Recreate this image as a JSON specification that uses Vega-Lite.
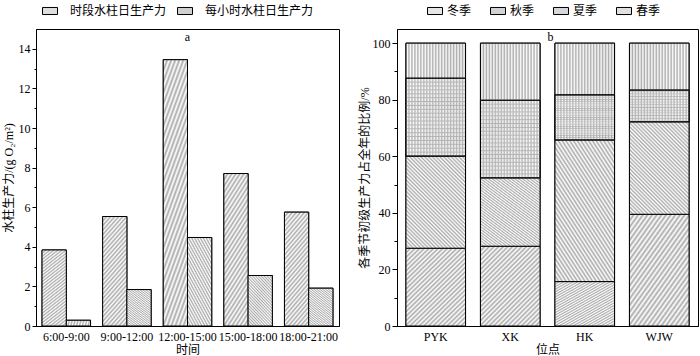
{
  "$schema": "https://vega.github.io/schema/vega-lite/v6.json",
  "padding": {"left": 1, "top": 2, "right": 0, "bottom": 0},
  "background": "white",
  "resolve": {"scale": {"color": "independent"}, "legend": {"color": "independent"}},
  "config": {
    "font": "Liberation Serif, Noto Sans CJK SC",
    "view": {"stroke": "black", "strokeWidth": 1},
    "concat": {"spacing": 17},
    "axis": {
      "domainColor": "black", "tickColor": "black", "labelColor": "black", "titleColor": "black",
      "labelFont": "Liberation Serif", "labelFontSize": 12, "titleFont": "Liberation Serif, Noto Sans CJK SC",
      "titleFontSize": 12, "titleFontWeight": "normal", "grid": false
    },
    "legend": {
      "labelFont": "Liberation Serif, Noto Sans CJK SC", "labelFontSize": 12, "labelColor": "black",
      "symbolStrokeColor": "black", "symbolStrokeWidth": 1, "symbolOpacity": 1
    }
  },
  "hconcat": [
    {
      "width": 303,
      "height": 297,
      "title": {"text": "a", "frame": "group", "offset": -50, "baseline": "alphabetic", "fontSize": 12, "fontWeight": "normal", "font": "Liberation Serif", "color": "black"},
      "data": {"values": [
        {"时间": "6:00-9:00", "指标": "时段水柱日生产力", "值": 3.84},
        {"时间": "6:00-9:00", "指标": "每小时水柱日生产力", "值": 0.29},
        {"时间": "9:00-12:00", "指标": "时段水柱日生产力", "值": 5.53},
        {"时间": "9:00-12:00", "指标": "每小时水柱日生产力", "值": 1.84},
        {"时间": "12:00-15:00", "指标": "时段水柱日生产力", "值": 13.45},
        {"时间": "12:00-15:00", "指标": "每小时水柱日生产力", "值": 4.47},
        {"时间": "15:00-18:00", "指标": "时段水柱日生产力", "值": 7.7},
        {"时间": "15:00-18:00", "指标": "每小时水柱日生产力", "值": 2.55},
        {"时间": "18:00-21:00", "指标": "时段水柱日生产力", "值": 5.75},
        {"时间": "18:00-21:00", "指标": "每小时水柱日生产力", "值": 1.91}
      ]},
      "encoding": {
        "x": {
          "field": "时间", "type": "nominal",
          "sort": ["6:00-9:00", "9:00-12:00", "12:00-15:00", "15:00-18:00", "18:00-21:00"],
          "scale": {"paddingInner": 0.2, "paddingOuter": 0.1},
          "axis": {"labelAngle": 0, "ticks": false, "labelPadding": 5, "titlePadding": 2, "title": "时间"}
        },
        "xOffset": {"field": "指标", "type": "nominal", "sort": ["时段水柱日生产力", "每小时水柱日生产力"]},
        "y": {
          "field": "值", "type": "quantitative",
          "scale": {"domain": [0, 15], "nice": false},
          "axis": {
            "values": [0, 1, 2, 3, 4, 5, 6, 7, 8, 9, 10, 11, 12, 13, 14],
            "labelExpr": "datum.value % 2 ? '' : datum.label",
            "tickSize": {"condition": {"test": "datum.value % 2", "value": 2}, "value": 4},
            "labelPadding": 2, "titlePadding": 3,
            "title": "水柱生产力/(g O₂/m²)"
          }
        }
      },
      "layer": [
        {
          "mark": {"type": "bar", "stroke": "black", "strokeWidth": 1},
          "encoding": {
            "color": {
              "field": "指标", "type": "nominal",
              "scale": {"domain": ["时段水柱日生产力", "每小时水柱日生产力"], "range": ["#dedede", "#d0d0d0"]},
              "legend": {
                "title": null, "orient": "none", "legendX": 6, "legendY": -26, "direction": "horizontal",
                "symbolType": "M-1,-0.47H1V0.47H-1Z", "symbolSize": 225, "labelOffset": 12, "columnPadding": 8,
                "encode": {"symbols": {"update": {
                  "stroke": {"value": "black"}, "strokeWidth": {"value": 1},
                  "fill": [
                  {"test": "datum.value === '时段水柱日生产力'", "value": {"gradient": "linear", "x1": 0, "y1": 0, "x2": 1, "y2": 1, "stops": [{"offset":0,"color":"#888"},{"offset":0.125,"color":"#fff"},{"offset":0.25,"color":"#888"},{"offset":0.375,"color":"#fff"},{"offset":0.5,"color":"#888"},{"offset":0.625,"color":"#fff"},{"offset":0.75,"color":"#888"},{"offset":0.875,"color":"#fff"},{"offset":1,"color":"#888"}]}},
                  {"value": {"gradient": "linear", "x1": 0, "y1": 1, "x2": 1, "y2": 0, "stops": [{"offset":0,"color":"#888"},{"offset":0.0714,"color":"#fff"},{"offset":0.1429,"color":"#888"},{"offset":0.2143,"color":"#fff"},{"offset":0.2857,"color":"#888"},{"offset":0.3571,"color":"#fff"},{"offset":0.4286,"color":"#888"},{"offset":0.5,"color":"#fff"},{"offset":0.5714,"color":"#888"},{"offset":0.6429,"color":"#fff"},{"offset":0.7143,"color":"#888"},{"offset":0.7857,"color":"#fff"},{"offset":0.8571,"color":"#888"},{"offset":0.9286,"color":"#fff"},{"offset":1,"color":"#888"}]}}
                ]}}}
              }
            }
          }
        },
        {
          "mark": {"type": "bar", "stroke": "black", "strokeWidth": 1},
          "encoding": {
            "fill": {
              "condition": {"test": "datum['指标'] === '时段水柱日生产力'", "value": {"gradient": "linear", "x1": 0, "y1": 0, "x2": 0.294, "y2": 1.176, "stops": [{"offset":0,"color":"#aaa"},{"offset":0.0167,"color":"#fff"},{"offset":0.0333,"color":"#aaa"},{"offset":0.05,"color":"#fff"},{"offset":0.0667,"color":"#aaa"},{"offset":0.0833,"color":"#fff"},{"offset":0.1,"color":"#aaa"},{"offset":0.1167,"color":"#fff"},{"offset":0.1333,"color":"#aaa"},{"offset":0.15,"color":"#fff"},{"offset":0.1667,"color":"#aaa"},{"offset":0.1833,"color":"#fff"},{"offset":0.2,"color":"#aaa"},{"offset":0.2167,"color":"#fff"},{"offset":0.2333,"color":"#aaa"},{"offset":0.25,"color":"#fff"},{"offset":0.2667,"color":"#aaa"},{"offset":0.2833,"color":"#fff"},{"offset":0.3,"color":"#aaa"},{"offset":0.3167,"color":"#fff"},{"offset":0.3333,"color":"#aaa"},{"offset":0.35,"color":"#fff"},{"offset":0.3667,"color":"#aaa"},{"offset":0.3833,"color":"#fff"},{"offset":0.4,"color":"#aaa"},{"offset":0.4167,"color":"#fff"},{"offset":0.4333,"color":"#aaa"},{"offset":0.45,"color":"#fff"},{"offset":0.4667,"color":"#aaa"},{"offset":0.4833,"color":"#fff"},{"offset":0.5,"color":"#aaa"},{"offset":0.5167,"color":"#fff"},{"offset":0.5333,"color":"#aaa"},{"offset":0.55,"color":"#fff"},{"offset":0.5667,"color":"#aaa"},{"offset":0.5833,"color":"#fff"},{"offset":0.6,"color":"#aaa"},{"offset":0.6167,"color":"#fff"},{"offset":0.6333,"color":"#aaa"},{"offset":0.65,"color":"#fff"},{"offset":0.6667,"color":"#aaa"},{"offset":0.6833,"color":"#fff"},{"offset":0.7,"color":"#aaa"},{"offset":0.7167,"color":"#fff"},{"offset":0.7333,"color":"#aaa"},{"offset":0.75,"color":"#fff"},{"offset":0.7667,"color":"#aaa"},{"offset":0.7833,"color":"#fff"},{"offset":0.8,"color":"#aaa"},{"offset":0.8167,"color":"#fff"},{"offset":0.8333,"color":"#aaa"},{"offset":0.85,"color":"#fff"},{"offset":0.8667,"color":"#aaa"},{"offset":0.8833,"color":"#fff"},{"offset":0.9,"color":"#aaa"},{"offset":0.9167,"color":"#fff"},{"offset":0.9333,"color":"#aaa"},{"offset":0.95,"color":"#fff"},{"offset":0.9667,"color":"#aaa"},{"offset":0.9833,"color":"#fff"},{"offset":1,"color":"#aaa"}]}},
              "value": {"gradient": "linear", "x1": 0, "y1": 1, "x2": 0.6, "y2": -0.2, "stops": [{"offset":0,"color":"#aaa"},{"offset":0.02,"color":"#fff"},{"offset":0.04,"color":"#aaa"},{"offset":0.06,"color":"#fff"},{"offset":0.08,"color":"#aaa"},{"offset":0.1,"color":"#fff"},{"offset":0.12,"color":"#aaa"},{"offset":0.14,"color":"#fff"},{"offset":0.16,"color":"#aaa"},{"offset":0.18,"color":"#fff"},{"offset":0.2,"color":"#aaa"},{"offset":0.22,"color":"#fff"},{"offset":0.24,"color":"#aaa"},{"offset":0.26,"color":"#fff"},{"offset":0.28,"color":"#aaa"},{"offset":0.3,"color":"#fff"},{"offset":0.32,"color":"#aaa"},{"offset":0.34,"color":"#fff"},{"offset":0.36,"color":"#aaa"},{"offset":0.38,"color":"#fff"},{"offset":0.4,"color":"#aaa"},{"offset":0.42,"color":"#fff"},{"offset":0.44,"color":"#aaa"},{"offset":0.46,"color":"#fff"},{"offset":0.48,"color":"#aaa"},{"offset":0.5,"color":"#fff"},{"offset":0.52,"color":"#aaa"},{"offset":0.54,"color":"#fff"},{"offset":0.56,"color":"#aaa"},{"offset":0.58,"color":"#fff"},{"offset":0.6,"color":"#aaa"},{"offset":0.62,"color":"#fff"},{"offset":0.64,"color":"#aaa"},{"offset":0.66,"color":"#fff"},{"offset":0.68,"color":"#aaa"},{"offset":0.7,"color":"#fff"},{"offset":0.72,"color":"#aaa"},{"offset":0.74,"color":"#fff"},{"offset":0.76,"color":"#aaa"},{"offset":0.78,"color":"#fff"},{"offset":0.8,"color":"#aaa"},{"offset":0.82,"color":"#fff"},{"offset":0.84,"color":"#aaa"},{"offset":0.86,"color":"#fff"},{"offset":0.88,"color":"#aaa"},{"offset":0.9,"color":"#fff"},{"offset":0.92,"color":"#aaa"},{"offset":0.94,"color":"#fff"},{"offset":0.96,"color":"#aaa"},{"offset":0.98,"color":"#fff"},{"offset":1,"color":"#aaa"}]}
            }
          }
        }
      ]
    },
    {
      "width": 301,
      "height": 297,
      "title": {"text": "b", "frame": "group", "offset": -50, "baseline": "alphabetic", "fontSize": 12, "fontWeight": "normal", "font": "Liberation Serif", "color": "black", "dx": 3},
      "data": {"values": [
        {"位点": "PYK", "季节": "春季", "比例": 27.5, "序": 1},
        {"位点": "PYK", "季节": "夏季", "比例": 32.6, "序": 2},
        {"位点": "PYK", "季节": "秋季", "比例": 27.5, "序": 3},
        {"位点": "PYK", "季节": "冬季", "比例": 12.4, "序": 4},
        {"位点": "XK", "季节": "春季", "比例": 28.2, "序": 1},
        {"位点": "XK", "季节": "夏季", "比例": 24.2, "序": 2},
        {"位点": "XK", "季节": "秋季", "比例": 27.4, "序": 3},
        {"位点": "XK", "季节": "冬季", "比例": 20.2, "序": 4},
        {"位点": "HK", "季节": "春季", "比例": 15.7, "序": 1},
        {"位点": "HK", "季节": "夏季", "比例": 50.1, "序": 2},
        {"位点": "HK", "季节": "秋季", "比例": 15.9, "序": 3},
        {"位点": "HK", "季节": "冬季", "比例": 18.3, "序": 4},
        {"位点": "WJW", "季节": "春季", "比例": 39.5, "序": 1},
        {"位点": "WJW", "季节": "夏季", "比例": 32.7, "序": 2},
        {"位点": "WJW", "季节": "秋季", "比例": 11.2, "序": 3},
        {"位点": "WJW", "季节": "冬季", "比例": 16.6, "序": 4}
      ]},
      "transform": [
        {"stack": "比例", "groupby": ["位点"], "sort": [{"field": "序", "order": "ascending"}], "as": ["下", "上"]}
      ],
      "encoding": {
        "x": {
          "field": "位点", "type": "nominal", "sort": ["PYK", "XK", "HK", "WJW"],
          "scale": {"paddingInner": 0.2, "paddingOuter": 0.12},
          "axis": {"labelAngle": 0, "ticks": false, "labelPadding": 5, "titlePadding": 2, "title": "位点"}
        },
        "y": {
          "field": "下", "type": "quantitative",
          "scale": {"domain": [0, 105], "nice": false},
          "axis": {
            "values": [0, 10, 20, 30, 40, 50, 60, 70, 80, 90, 100],
            "labelExpr": "datum.value % 20 ? '' : datum.label",
            "tickSize": {"condition": {"test": "datum.value % 20", "value": 3}, "value": 5},
            "labelPadding": 2, "titlePadding": 1,
            "title": "各季节初级生产力占全年的比例/%"
          }
        },
        "y2": {"field": "上"}
      },
      "layer": [
        {
          "mark": {"type": "bar", "stroke": "black", "strokeWidth": 1},
          "encoding": {
            "color": {
              "field": "季节", "type": "nominal",
              "scale": {"domain": ["冬季", "秋季", "夏季", "春季"], "range": ["#e6e6e6", "#d2d2d2", "#d6d6d6", "#e0e0e0"]},
              "legend": {
                "title": null, "orient": "none", "legendX": 30, "legendY": -26, "direction": "horizontal",
                "symbolType": "M-1,-0.47H1V0.47H-1Z", "symbolSize": 225, "labelOffset": 4, "columnPadding": 16,
                "encode": {"symbols": {"update": {
                  "stroke": {"value": "black"}, "strokeWidth": {"value": 1},
                  "fill": [
                  {"test": "datum.value === '冬季'", "value": {"gradient": "linear", "x1": 0, "y1": 0, "x2": 1, "y2": 0, "stops": [{"offset":0,"color":"#888"},{"offset":0.0714,"color":"#fff"},{"offset":0.1429,"color":"#888"},{"offset":0.2143,"color":"#fff"},{"offset":0.2857,"color":"#888"},{"offset":0.3571,"color":"#fff"},{"offset":0.4286,"color":"#888"},{"offset":0.5,"color":"#fff"},{"offset":0.5714,"color":"#888"},{"offset":0.6429,"color":"#fff"},{"offset":0.7143,"color":"#888"},{"offset":0.7857,"color":"#fff"},{"offset":0.8571,"color":"#888"},{"offset":0.9286,"color":"#fff"},{"offset":1,"color":"#888"}]}},
                  {"test": "datum.value === '秋季'", "value": {"gradient": "linear", "x1": 0, "y1": 0, "x2": 1, "y2": 0, "stops": [{"offset":0,"color":"#777"},{"offset":0.0714,"color":"#ccc"},{"offset":0.1429,"color":"#777"},{"offset":0.2143,"color":"#ccc"},{"offset":0.2857,"color":"#777"},{"offset":0.3571,"color":"#ccc"},{"offset":0.4286,"color":"#777"},{"offset":0.5,"color":"#ccc"},{"offset":0.5714,"color":"#777"},{"offset":0.6429,"color":"#ccc"},{"offset":0.7143,"color":"#777"},{"offset":0.7857,"color":"#ccc"},{"offset":0.8571,"color":"#777"},{"offset":0.9286,"color":"#ccc"},{"offset":1,"color":"#777"}]}},
                  {"test": "datum.value === '夏季'", "value": {"gradient": "linear", "x1": 0, "y1": 1, "x2": 1, "y2": 0, "stops": [{"offset":0,"color":"#888"},{"offset":0.0714,"color":"#fff"},{"offset":0.1429,"color":"#888"},{"offset":0.2143,"color":"#fff"},{"offset":0.2857,"color":"#888"},{"offset":0.3571,"color":"#fff"},{"offset":0.4286,"color":"#888"},{"offset":0.5,"color":"#fff"},{"offset":0.5714,"color":"#888"},{"offset":0.6429,"color":"#fff"},{"offset":0.7143,"color":"#888"},{"offset":0.7857,"color":"#fff"},{"offset":0.8571,"color":"#888"},{"offset":0.9286,"color":"#fff"},{"offset":1,"color":"#888"}]}},
                  {"value": {"gradient": "linear", "x1": 0, "y1": 0, "x2": 1, "y2": 1, "stops": [{"offset":0,"color":"#888"},{"offset":0.125,"color":"#fff"},{"offset":0.25,"color":"#888"},{"offset":0.375,"color":"#fff"},{"offset":0.5,"color":"#888"},{"offset":0.625,"color":"#fff"},{"offset":0.75,"color":"#888"},{"offset":0.875,"color":"#fff"},{"offset":1,"color":"#888"}]}}
                ]}}}
              }
            }
          }
        },
        {
          "mark": {"type": "bar", "stroke": "black", "strokeWidth": 1},
          "encoding": {
            "fill": {
              "condition": [
                {"test": "datum['季节'] === '冬季' || datum['季节'] === '秋季'", "value": {"gradient": "linear", "x1": 0, "y1": 0, "x2": 1, "y2": 0, "stops": [{"offset":0,"color":"#aaa"},{"offset":0.025,"color":"#fff"},{"offset":0.05,"color":"#aaa"},{"offset":0.075,"color":"#fff"},{"offset":0.1,"color":"#aaa"},{"offset":0.125,"color":"#fff"},{"offset":0.15,"color":"#aaa"},{"offset":0.175,"color":"#fff"},{"offset":0.2,"color":"#aaa"},{"offset":0.225,"color":"#fff"},{"offset":0.25,"color":"#aaa"},{"offset":0.275,"color":"#fff"},{"offset":0.3,"color":"#aaa"},{"offset":0.325,"color":"#fff"},{"offset":0.35,"color":"#aaa"},{"offset":0.375,"color":"#fff"},{"offset":0.4,"color":"#aaa"},{"offset":0.425,"color":"#fff"},{"offset":0.45,"color":"#aaa"},{"offset":0.475,"color":"#fff"},{"offset":0.5,"color":"#aaa"},{"offset":0.525,"color":"#fff"},{"offset":0.55,"color":"#aaa"},{"offset":0.575,"color":"#fff"},{"offset":0.6,"color":"#aaa"},{"offset":0.625,"color":"#fff"},{"offset":0.65,"color":"#aaa"},{"offset":0.675,"color":"#fff"},{"offset":0.7,"color":"#aaa"},{"offset":0.725,"color":"#fff"},{"offset":0.75,"color":"#aaa"},{"offset":0.775,"color":"#fff"},{"offset":0.8,"color":"#aaa"},{"offset":0.825,"color":"#fff"},{"offset":0.85,"color":"#aaa"},{"offset":0.875,"color":"#fff"},{"offset":0.9,"color":"#aaa"},{"offset":0.925,"color":"#fff"},{"offset":0.95,"color":"#aaa"},{"offset":0.975,"color":"#fff"},{"offset":1,"color":"#aaa"}]}},
                {"test": "datum['季节'] === '夏季'", "value": {"gradient": "linear", "x1": 0, "y1": 1, "x2": 0.754, "y2": -0.16, "stops": [{"offset":0,"color":"#aaa"},{"offset":0.0125,"color":"#fff"},{"offset":0.025,"color":"#aaa"},{"offset":0.0375,"color":"#fff"},{"offset":0.05,"color":"#aaa"},{"offset":0.0625,"color":"#fff"},{"offset":0.075,"color":"#aaa"},{"offset":0.0875,"color":"#fff"},{"offset":0.1,"color":"#aaa"},{"offset":0.1125,"color":"#fff"},{"offset":0.125,"color":"#aaa"},{"offset":0.1375,"color":"#fff"},{"offset":0.15,"color":"#aaa"},{"offset":0.1625,"color":"#fff"},{"offset":0.175,"color":"#aaa"},{"offset":0.1875,"color":"#fff"},{"offset":0.2,"color":"#aaa"},{"offset":0.2125,"color":"#fff"},{"offset":0.225,"color":"#aaa"},{"offset":0.2375,"color":"#fff"},{"offset":0.25,"color":"#aaa"},{"offset":0.2625,"color":"#fff"},{"offset":0.275,"color":"#aaa"},{"offset":0.2875,"color":"#fff"},{"offset":0.3,"color":"#aaa"},{"offset":0.3125,"color":"#fff"},{"offset":0.325,"color":"#aaa"},{"offset":0.3375,"color":"#fff"},{"offset":0.35,"color":"#aaa"},{"offset":0.3625,"color":"#fff"},{"offset":0.375,"color":"#aaa"},{"offset":0.3875,"color":"#fff"},{"offset":0.4,"color":"#aaa"},{"offset":0.4125,"color":"#fff"},{"offset":0.425,"color":"#aaa"},{"offset":0.4375,"color":"#fff"},{"offset":0.45,"color":"#aaa"},{"offset":0.4625,"color":"#fff"},{"offset":0.475,"color":"#aaa"},{"offset":0.4875,"color":"#fff"},{"offset":0.5,"color":"#aaa"},{"offset":0.5125,"color":"#fff"},{"offset":0.525,"color":"#aaa"},{"offset":0.5375,"color":"#fff"},{"offset":0.55,"color":"#aaa"},{"offset":0.5625,"color":"#fff"},{"offset":0.575,"color":"#aaa"},{"offset":0.5875,"color":"#fff"},{"offset":0.6,"color":"#aaa"},{"offset":0.6125,"color":"#fff"},{"offset":0.625,"color":"#aaa"},{"offset":0.6375,"color":"#fff"},{"offset":0.65,"color":"#aaa"},{"offset":0.6625,"color":"#fff"},{"offset":0.675,"color":"#aaa"},{"offset":0.6875,"color":"#fff"},{"offset":0.7,"color":"#aaa"},{"offset":0.7125,"color":"#fff"},{"offset":0.725,"color":"#aaa"},{"offset":0.7375,"color":"#fff"},{"offset":0.75,"color":"#aaa"},{"offset":0.7625,"color":"#fff"},{"offset":0.775,"color":"#aaa"},{"offset":0.7875,"color":"#fff"},{"offset":0.8,"color":"#aaa"},{"offset":0.8125,"color":"#fff"},{"offset":0.825,"color":"#aaa"},{"offset":0.8375,"color":"#fff"},{"offset":0.85,"color":"#aaa"},{"offset":0.8625,"color":"#fff"},{"offset":0.875,"color":"#aaa"},{"offset":0.8875,"color":"#fff"},{"offset":0.9,"color":"#aaa"},{"offset":0.9125,"color":"#fff"},{"offset":0.925,"color":"#aaa"},{"offset":0.9375,"color":"#fff"},{"offset":0.95,"color":"#aaa"},{"offset":0.9625,"color":"#fff"},{"offset":0.975,"color":"#aaa"},{"offset":0.9875,"color":"#fff"},{"offset":1,"color":"#aaa"}]}}
              ],
              "value": {"gradient": "linear", "x1": 0, "y1": 0, "x2": 0.84, "y2": 1.12, "stops": [{"offset":0,"color":"#aaa"},{"offset":0.0167,"color":"#fff"},{"offset":0.0333,"color":"#aaa"},{"offset":0.05,"color":"#fff"},{"offset":0.0667,"color":"#aaa"},{"offset":0.0833,"color":"#fff"},{"offset":0.1,"color":"#aaa"},{"offset":0.1167,"color":"#fff"},{"offset":0.1333,"color":"#aaa"},{"offset":0.15,"color":"#fff"},{"offset":0.1667,"color":"#aaa"},{"offset":0.1833,"color":"#fff"},{"offset":0.2,"color":"#aaa"},{"offset":0.2167,"color":"#fff"},{"offset":0.2333,"color":"#aaa"},{"offset":0.25,"color":"#fff"},{"offset":0.2667,"color":"#aaa"},{"offset":0.2833,"color":"#fff"},{"offset":0.3,"color":"#aaa"},{"offset":0.3167,"color":"#fff"},{"offset":0.3333,"color":"#aaa"},{"offset":0.35,"color":"#fff"},{"offset":0.3667,"color":"#aaa"},{"offset":0.3833,"color":"#fff"},{"offset":0.4,"color":"#aaa"},{"offset":0.4167,"color":"#fff"},{"offset":0.4333,"color":"#aaa"},{"offset":0.45,"color":"#fff"},{"offset":0.4667,"color":"#aaa"},{"offset":0.4833,"color":"#fff"},{"offset":0.5,"color":"#aaa"},{"offset":0.5167,"color":"#fff"},{"offset":0.5333,"color":"#aaa"},{"offset":0.55,"color":"#fff"},{"offset":0.5667,"color":"#aaa"},{"offset":0.5833,"color":"#fff"},{"offset":0.6,"color":"#aaa"},{"offset":0.6167,"color":"#fff"},{"offset":0.6333,"color":"#aaa"},{"offset":0.65,"color":"#fff"},{"offset":0.6667,"color":"#aaa"},{"offset":0.6833,"color":"#fff"},{"offset":0.7,"color":"#aaa"},{"offset":0.7167,"color":"#fff"},{"offset":0.7333,"color":"#aaa"},{"offset":0.75,"color":"#fff"},{"offset":0.7667,"color":"#aaa"},{"offset":0.7833,"color":"#fff"},{"offset":0.8,"color":"#aaa"},{"offset":0.8167,"color":"#fff"},{"offset":0.8333,"color":"#aaa"},{"offset":0.85,"color":"#fff"},{"offset":0.8667,"color":"#aaa"},{"offset":0.8833,"color":"#fff"},{"offset":0.9,"color":"#aaa"},{"offset":0.9167,"color":"#fff"},{"offset":0.9333,"color":"#aaa"},{"offset":0.95,"color":"#fff"},{"offset":0.9667,"color":"#aaa"},{"offset":0.9833,"color":"#fff"},{"offset":1,"color":"#aaa"}]}
            }
          }
        },
        {
          "transform": [{"filter": "datum['季节'] === '秋季'"}],
          "mark": {
            "type": "bar", "stroke": "black", "strokeWidth": 1,
            "fill": {"gradient": "linear", "x1": 0, "y1": 0, "x2": 0, "y2": 1, "stops": [{"offset":0,"color":"rgba(170,170,170,0.8)"},{"offset":0.025,"color":"rgba(255,255,255,0)"},{"offset":0.05,"color":"rgba(170,170,170,0.8)"},{"offset":0.075,"color":"rgba(255,255,255,0)"},{"offset":0.1,"color":"rgba(170,170,170,0.8)"},{"offset":0.125,"color":"rgba(255,255,255,0)"},{"offset":0.15,"color":"rgba(170,170,170,0.8)"},{"offset":0.175,"color":"rgba(255,255,255,0)"},{"offset":0.2,"color":"rgba(170,170,170,0.8)"},{"offset":0.225,"color":"rgba(255,255,255,0)"},{"offset":0.25,"color":"rgba(170,170,170,0.8)"},{"offset":0.275,"color":"rgba(255,255,255,0)"},{"offset":0.3,"color":"rgba(170,170,170,0.8)"},{"offset":0.325,"color":"rgba(255,255,255,0)"},{"offset":0.35,"color":"rgba(170,170,170,0.8)"},{"offset":0.375,"color":"rgba(255,255,255,0)"},{"offset":0.4,"color":"rgba(170,170,170,0.8)"},{"offset":0.425,"color":"rgba(255,255,255,0)"},{"offset":0.45,"color":"rgba(170,170,170,0.8)"},{"offset":0.475,"color":"rgba(255,255,255,0)"},{"offset":0.5,"color":"rgba(170,170,170,0.8)"},{"offset":0.525,"color":"rgba(255,255,255,0)"},{"offset":0.55,"color":"rgba(170,170,170,0.8)"},{"offset":0.575,"color":"rgba(255,255,255,0)"},{"offset":0.6,"color":"rgba(170,170,170,0.8)"},{"offset":0.625,"color":"rgba(255,255,255,0)"},{"offset":0.65,"color":"rgba(170,170,170,0.8)"},{"offset":0.675,"color":"rgba(255,255,255,0)"},{"offset":0.7,"color":"rgba(170,170,170,0.8)"},{"offset":0.725,"color":"rgba(255,255,255,0)"},{"offset":0.75,"color":"rgba(170,170,170,0.8)"},{"offset":0.775,"color":"rgba(255,255,255,0)"},{"offset":0.8,"color":"rgba(170,170,170,0.8)"},{"offset":0.825,"color":"rgba(255,255,255,0)"},{"offset":0.85,"color":"rgba(170,170,170,0.8)"},{"offset":0.875,"color":"rgba(255,255,255,0)"},{"offset":0.9,"color":"rgba(170,170,170,0.8)"},{"offset":0.925,"color":"rgba(255,255,255,0)"},{"offset":0.95,"color":"rgba(170,170,170,0.8)"},{"offset":0.975,"color":"rgba(255,255,255,0)"},{"offset":1,"color":"rgba(170,170,170,0.8)"}]}
          }
        }
      ]
    }
  ]
}
